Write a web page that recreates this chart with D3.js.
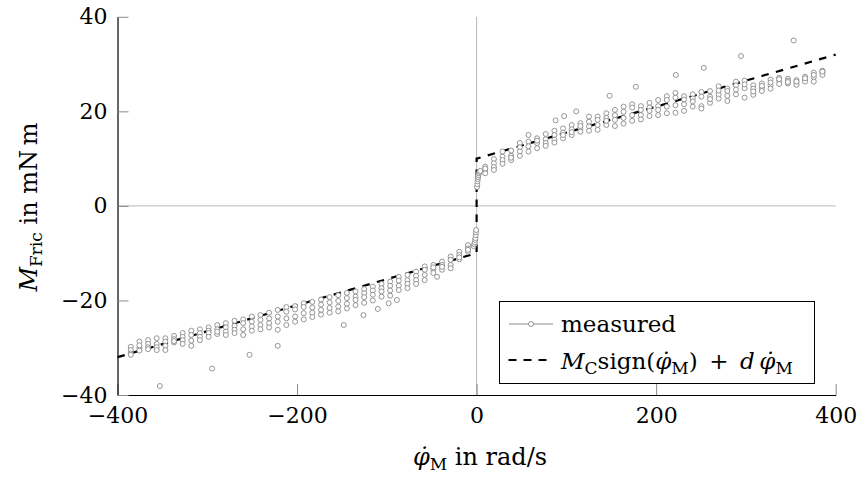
<!DOCTYPE html>
<html><head><meta charset="utf-8">
<script src="https://cdn.jsdelivr.net/npm/d3@7"></script>
<style>
html,body{margin:0;padding:0;background:#fff;}
svg{display:block;}
text{font-family:"DejaVu Serif",serif;fill:#000;}
</style></head><body>
<svg id="chart" width="862" height="479"></svg>
<script>
// ---- data ----
const speed = [-385.2,-375.6,-365.9,-356.3,-346.7,-337.0,-327.4,-317.8,-308.2,-298.5,
  -288.9,-279.3,-269.6,-260.0,-250.4,-240.8,-231.1,-221.5,-211.9,-202.2,
  -192.6,-183.0,-173.3,-163.7,-154.1,-144.5,-134.8,-125.2,-115.6,-105.9,
  -96.3,-86.7,-77.0,-67.4,-57.8,-48.2,-38.5,-28.9,-19.3,-9.6,
  9.6,19.3,28.9,38.5,48.2,57.8,67.4,77.0,86.7,96.3,
  105.9,115.6,125.2,134.8,144.5,154.1,163.7,173.3,183.0,192.6,
  202.2,211.9,221.5,231.1,240.8,250.4,260.0,269.6,279.3,288.9,
  298.5,308.2,317.8,327.4,337.0,346.7,356.3,365.9,375.6,385.2];
const runA = [-29.8,-28.7,-28.4,-28.0,-28.0,-27.5,-26.9,-26.4,-26.1,-25.7,
  -25.2,-24.8,-24.3,-24.0,-23.4,-23.1,-22.6,-22.0,-21.4,-21.2,
  -20.6,-20.3,-19.8,-19.3,-18.9,-18.4,-18.1,-17.6,-17.1,-16.5,
  -16.0,-15.0,-14.6,-13.9,-12.8,-12.5,-11.8,-10.7,-9.7,-8.3,
  8.3,9.9,11.5,11.7,13.3,15.0,14.3,15.2,15.9,16.4,
  17.1,17.5,18.9,18.9,19.6,20.3,21.0,21.5,21.1,21.8,
  22.4,23.2,23.9,23.2,23.6,24.1,24.3,25.3,24.8,26.3,
  26.5,25.5,25.9,26.7,27.1,26.9,26.6,27.3,28.2,28.6];
const runB = [-30.5,-30.1,-29.2,-29.2,-28.7,-28.2,-27.7,-27.3,-26.9,-26.4,
  -26.1,-25.7,-25.4,-24.8,-24.5,-24.1,-23.8,-23.4,-22.4,-21.9,
  -21.4,-21.5,-20.9,-20.4,-20.1,-19.5,-19.2,-18.5,-17.9,-17.4,
  -16.9,-15.8,-15.7,-14.8,-13.5,-13.4,-12.5,-11.4,-10.4,-9.0,
  7.6,9.0,10.4,10.6,12.4,13.6,13.3,14.1,15.0,15.5,
  16.2,16.4,17.8,18.2,18.6,19.2,19.9,20.8,20.3,20.8,
  21.1,22.4,22.9,22.5,22.7,23.1,23.1,23.6,24.3,25.5,
  24.9,24.8,24.9,25.5,26.5,26.5,26.0,26.7,27.2,28.2];
const runC = [-31.2,-30.6,-29.9,-29.9,-29.6,-28.9,-28.4,-28.5,-27.7,-26.9,
  -27.1,-26.6,-26.2,-26.1,-25.5,-25.2,-24.8,-24.5,-23.8,-23.4,
  -22.7,-22.6,-22.0,-21.6,-21.3,-20.7,-19.9,-19.3,-18.8,-18.1,
  -17.9,-16.9,-16.5,-15.7,-14.6,-14.2,-13.5,-12.5,-11.3,-9.7,
  6.9,8.2,9.7,9.7,11.5,12.6,12.2,13.3,14.0,14.3,
  15.0,15.7,16.8,17.1,17.1,16.9,17.4,19.2,19.2,19.0,
  19.2,19.6,21.3,21.5,21.0,21.1,21.8,22.7,22.2,23.6,
  22.9,23.5,24.3,24.8,25.8,25.9,25.6,26.3,26.3,27.7];
const runD = [-31.5,-29.5,-30.3,-30.5,-30.5,-28.6,-29.2,-29.6,-28.4,-27.7,
  -26.6,-27.3,-26.9,-27.3,-26.4,-26.1,-25.7,-26.2,-25.2,-24.5,
  -24.0,-23.5,-23.0,-22.6,-22.3,-21.7,-21.0,-20.5,-20.0,-19.2,
  -19.0,-17.8,-17.4,-16.5,-15.7,-13.0,-12.9,-13.2,-10.9,-9.3,
  7.9,7.6,8.9,10.2,10.6,11.5,13.8,12.7,13.4,15.0,
  15.6,16.9,15.9,16.1,18.0,18.2,18.6,18.0,18.3,20.1,
  20.3,21.0,19.7,20.1,22.1,20.6,22.6,24.4,23.3,24.6,
  25.7,24.2,25.4,26.1,26.8,26.2,26.3,27.0,27.7,28.4];
const outlierSpeed = [-352.8,-294.6,-253.0,-221.5,-148.0,-126.0,-110.0,-98.0,-88.8,-44.0,
  88.0,97.5,111.0,148.2,177.4,221.9,253.1,294.5,353.2];
const outlierTorque = [-38.1,-34.4,-31.5,-29.6,-25.2,-23.1,-21.8,-20.6,-19.9,-15.0,
  18.1,19.0,20.0,23.3,25.2,27.7,29.2,31.7,35.0];
const nearZeroSpeed = [-3.3,-2.6,-2.0,-1.6,-1.3,-1.0,-0.8,-0.5,0.5,0.8,1.0,1.3,1.6,2.0,2.5,3.2,4.0];
const nearZeroTorque = [-8.5,-8.1,-7.7,-7.2,-6.8,-6.2,-5.6,-5.1,4.0,4.6,5.2,5.7,6.1,6.5,6.9,7.2,7.4];
const modelSpeed = [-400, 0, 0, 400];
const modelTorque = [-32, -10, 10, 32];
const xTicks = [-400, -200, 0, 200, 400];
const yTicks = [-40, -20, 0, 20, 40];

// ---- chart ----
const svg = d3.select('#chart');
const x = d3.scaleLinear().domain([-400, 400]).range([117.5, 835.7]);
const y = d3.scaleLinear().domain([-40, 40]).range([395, 16.8]);

// zero lines
svg.append('line').attr('x1', x(0)).attr('x2', x(0)).attr('y1', y(-40)).attr('y2', y(40))
  .attr('stroke', '#b8b8b8').attr('stroke-width', 1);
svg.append('line').attr('x1', x(-400)).attr('x2', x(400)).attr('y1', y(0)).attr('y2', y(0))
  .attr('stroke', '#b8b8b8').attr('stroke-width', 1);

// model line
const model = modelSpeed.map((s, i) => [s, modelTorque[i]]);
svg.append('path').datum(model)
  .attr('d', d3.line().x(d => x(d[0])).y(d => y(d[1])))
  .attr('fill', 'none').attr('stroke', '#000').attr('stroke-width', 2.2)
  .attr('stroke-dasharray', '7.5,7.5');

// measured points
const pts = [];
[runA, runB, runC, runD].forEach(run => speed.forEach((s, i) => pts.push([s, run[i]])));
outlierSpeed.forEach((s, i) => pts.push([s, outlierTorque[i]]));
nearZeroSpeed.forEach((s, i) => pts.push([s, nearZeroTorque[i]]));
svg.append('g').selectAll('circle').data(pts).join('circle')
  .attr('cx', d => x(d[0])).attr('cy', d => y(d[1])).attr('r', 2.5)
  .attr('fill', '#fff').attr('stroke', '#8a8a8a').attr('stroke-width', 0.9);

// axes
const gx = svg.append('g').attr('transform', `translate(0,${y(-40)})`)
  .call(d3.axisBottom(x).tickValues(xTicks).tickSize(-11).tickSizeOuter(0).tickPadding(12));
const gy = svg.append('g').attr('transform', `translate(${x(-400)},0)`)
  .call(d3.axisLeft(y).tickValues(yTicks).tickSize(-11).tickSizeOuter(0).tickPadding(10));
[gx, gy].forEach(g => {
  g.select('.domain').attr('stroke', '#000').attr('stroke-width', 1.2);
  g.selectAll('.tick line').attr('stroke', '#8a8a8a').attr('stroke-width', 1);
  g.selectAll('.tick text').attr('font-family', 'DejaVu Serif').attr('font-size', 22).attr('fill', '#000');
});

// axis labels
const xl = svg.append('text').attr('x', 480).attr('y', 465).attr('text-anchor', 'middle').attr('font-size', 24);
xl.append('tspan').attr('font-style', 'italic').text('\u03C6\u0307');
xl.append('tspan').attr('font-size', 17).attr('dy', 5).text('M');
xl.append('tspan').attr('dy', -5).text(' in rad/s');

const yl = svg.append('text').attr('transform', 'translate(37,207) rotate(-90)')
  .attr('text-anchor', 'middle').attr('font-size', 24);
yl.append('tspan').attr('font-style', 'italic').text('M');
yl.append('tspan').attr('font-size', 17).attr('dy', 5).text('Fric');
yl.append('tspan').attr('dy', -5).text(' in mN\u2009m');

// legend
const lg = svg.append('g');
lg.append('rect').attr('x', 499.5).attr('y', 301.5).attr('width', 315).attr('height', 82)
  .attr('fill', '#fff').attr('stroke', '#000').attr('stroke-width', 1);
lg.append('line').attr('x1', 509).attr('x2', 553).attr('y1', 324).attr('y2', 324)
  .attr('stroke', '#8a8a8a').attr('stroke-width', 1);
lg.append('circle').attr('cx', 531).attr('cy', 324).attr('r', 2.5)
  .attr('fill', '#fff').attr('stroke', '#8a8a8a').attr('stroke-width', 0.9);
lg.append('text').attr('x', 561).attr('y', 332).attr('font-size', 23).text('measured');
lg.append('line').attr('x1', 508.5).attr('x2', 549).attr('y1', 360).attr('y2', 360)
  .attr('stroke', '#000').attr('stroke-width', 2.2).attr('stroke-dasharray', '8,7');
const t2 = lg.append('text').attr('x', 561).attr('y', 369).attr('font-size', 23);
t2.append('tspan').attr('font-style', 'italic').text('M');
t2.append('tspan').attr('font-size', 17).attr('dy', 5).text('C');
t2.append('tspan').attr('dy', -5).text('sign(');
t2.append('tspan').attr('font-style', 'italic').text('\u03C6\u0307');
t2.append('tspan').attr('font-size', 17).attr('dy', 5).text('M');
t2.append('tspan').attr('dy', -5).text(')\u2002+\u2002');
t2.append('tspan').attr('font-style', 'italic').text('d\u2009\u03C6\u0307');
t2.append('tspan').attr('font-size', 17).attr('dy', 5).text('M');
</script>
</body></html>
